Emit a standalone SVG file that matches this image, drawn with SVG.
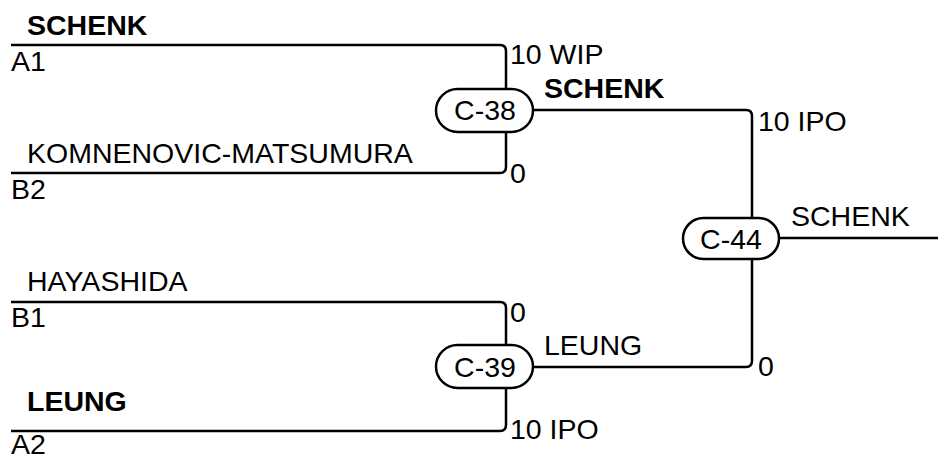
<svg xmlns="http://www.w3.org/2000/svg" width="938" height="457" viewBox="0 0 938 457">
<style>
text{font-family:"Liberation Sans",Arial,sans-serif;font-size:28.5px;fill:#000}
.b{font-weight:bold}
.m{text-anchor:middle}
.w{fill:none;stroke:#000;stroke-width:2.5}
.p{fill:#fff;stroke:#000;stroke-width:2.5}
</style>
<rect width="938" height="457" fill="#fff"/>
<g id="connectors">
<path class="w" d="M11 45 H500 Q506 45 506 51 V89"/>
<path class="w" d="M11 173 H500 Q506 173 506 167 V132"/>
<path class="w" d="M11 302 H500 Q506 302 506 308 V345"/>
<path class="w" d="M11 431 H500 Q506 431 506 425 V388"/>
<path class="w" d="M533 110 H746 Q752 110 752 116 V218"/>
<path class="w" d="M533 367 H746 Q752 367 752 361 V259"/>
<path class="w" d="M779 238 H938"/>
</g>
<g id="slot-A1"><text class="b" x="27" y="35">SCHENK</text><text x="11" y="71">A1</text></g>
<g id="slot-B2"><text x="27" y="163">KOMNENOVIC-MATSUMURA</text><text x="11" y="199">B2</text></g>
<g id="slot-B1"><text x="27" y="291">HAYASHIDA</text><text x="11" y="327">B1</text></g>
<g id="slot-A2"><text class="b" x="27" y="411">LEUNG</text><text x="11" y="454">A2</text></g>
<g id="C-38">
<rect class="p" x="436" y="89" width="97" height="43" rx="21.5"/>
<text class="m" x="485" y="120">C-38</text>
<text x="510" y="64">10 WIP</text>
<text x="510" y="183">0</text>
<text class="b" x="544" y="98">SCHENK</text>
</g>
<g id="C-39">
<rect class="p" x="436" y="345" width="97" height="43" rx="21.5"/>
<text class="m" x="485" y="377">C-39</text>
<text x="510" y="322">0</text>
<text x="510" y="439">10 IPO</text>
<text x="544" y="355">LEUNG</text>
</g>
<g id="C-44">
<rect class="p" x="683" y="218" width="96" height="41" rx="20.5"/>
<text class="m" x="731" y="249">C-44</text>
<text x="758" y="131">10 IPO</text>
<text x="758" y="376">0</text>
<text x="791" y="226">SCHENK</text>
</g>
</svg>
